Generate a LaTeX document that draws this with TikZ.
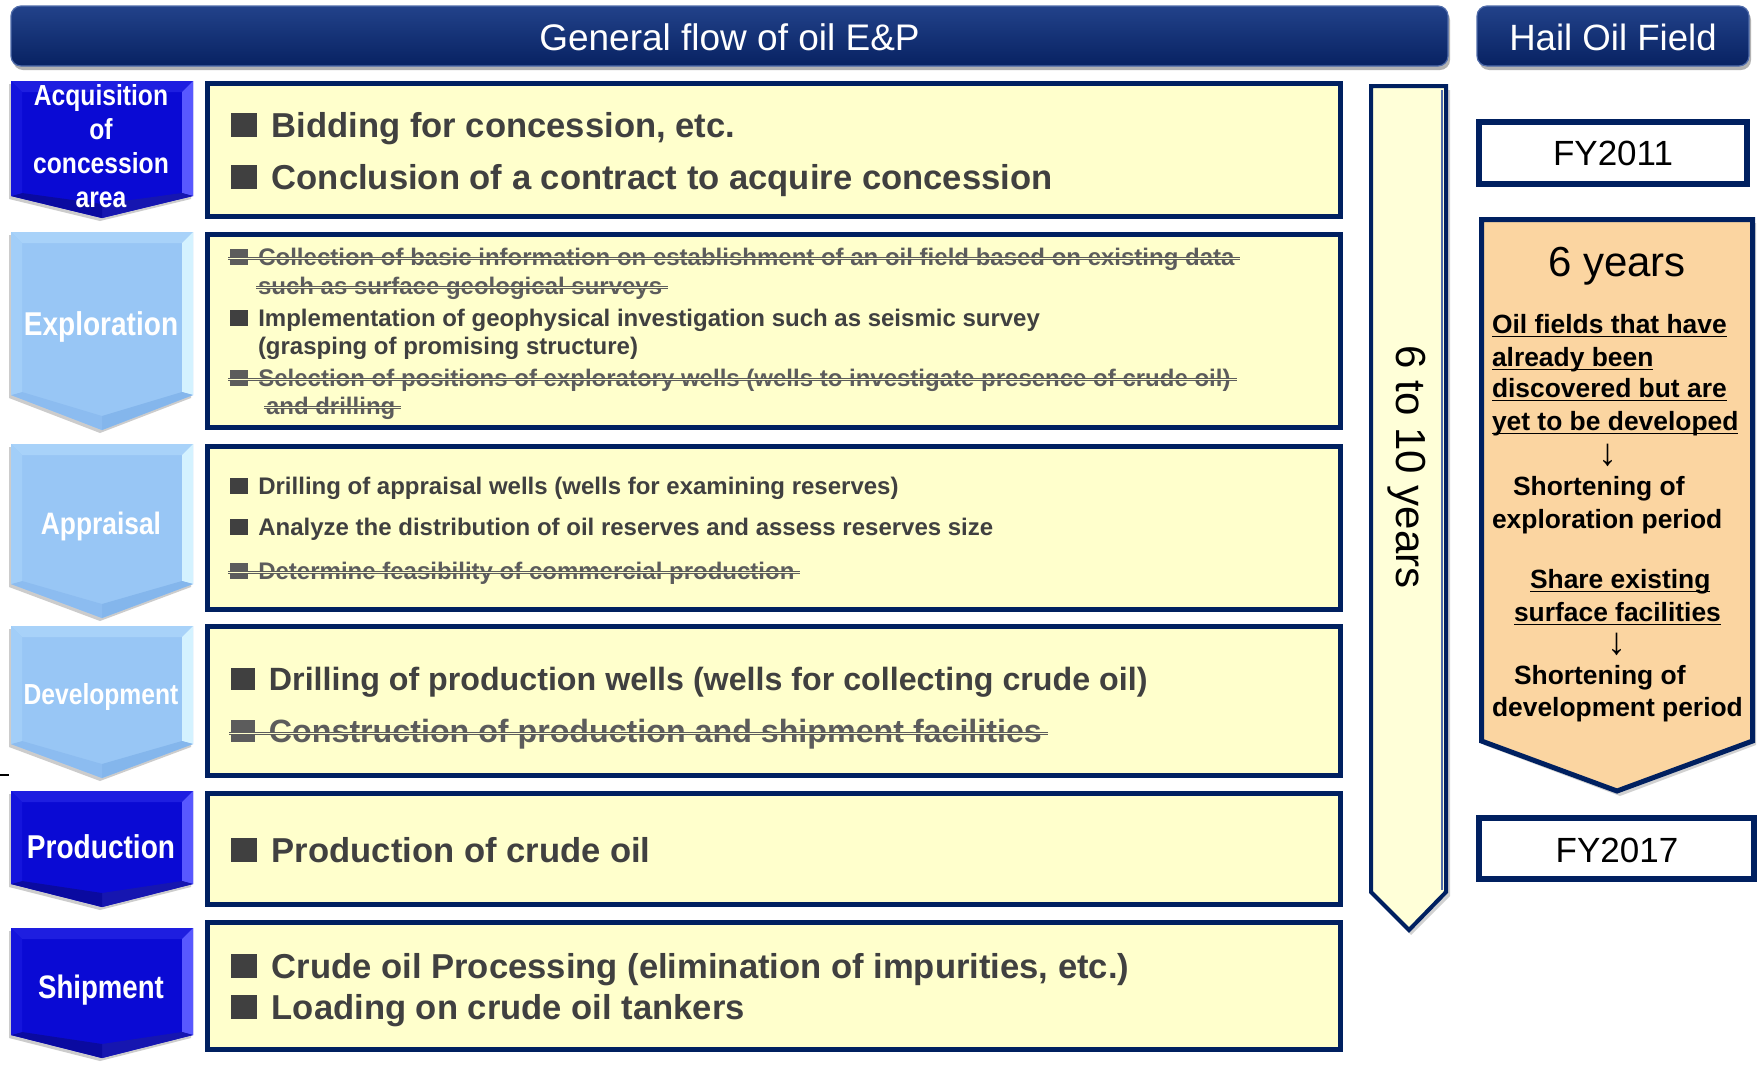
\documentclass[tikz,border=0pt]{standalone}
\usepackage{fontspec}
\setmainfont{Liberation Sans}
\newfontfamily\narrowfont{Liberation Sans}[FakeStretch=0.85]
\usetikzlibrary{calc}

\definecolor{navy}{RGB}{0,32,96}
\definecolor{boxfill}{RGB}{255,255,204}
\definecolor{txt}{RGB}{64,64,64}
\definecolor{struck}{RGB}{92,92,92}
\definecolor{orangefill}{RGB}{251,213,161}
\definecolor{arrowfill}{RGB}{255,255,216}
\definecolor{bannertop}{RGB}{34,66,138}
\definecolor{bannerbot}{RGB}{8,34,98}
\definecolor{bannerline}{RGB}{80,108,170}
% facet colours of the deep blue chevrons
\definecolor{deepC}{RGB}{10,10,212}
\definecolor{deepT}{RGB}{30,30,224}
\definecolor{deepR}{RGB}{88,88,255}
\definecolor{deepBR}{RGB}{22,22,176}
\definecolor{deepBL}{RGB}{10,10,160}
\definecolor{deepL}{RGB}{20,20,220}
% facet colours of the sky blue chevrons
\definecolor{skyC}{RGB}{152,198,245}
\definecolor{skyT}{RGB}{168,210,249}
\definecolor{skyR}{RGB}{212,242,255}
\definecolor{skyBR}{RGB}{132,182,236}
\definecolor{skyBL}{RGB}{140,188,240}
\definecolor{skyL}{RGB}{162,206,248}

\newcommand\sqb{\rule{0.74em}{0.68em}\hspace{0.44em}}
\newcommand\fsz[2]{\fontsize{#1}{#2}\selectfont}

% chevron with bevelled facets: #1 left x, #2 top y, #3 right x, #4 side end y, #5 tip y, #6 colour family
\newcommand\bevelchevron[6]{%
  \pgfmathsetmacro\xm{(#1+#3)/2}%
  \pgfmathsetmacro\xa{#1+11}\pgfmathsetmacro\xb{#3-11}%
  \pgfmathsetmacro\ya{#2+11}\pgfmathsetmacro\yb{#4-3}\pgfmathsetmacro\yc{#5-14}%
  \fill[black!20] (#1-2,#2+3) -- (#3-2,#2+3) -- (#3-2,#4+3) -- (\xm-2,#5+3) -- (#1-2,#4+3) -- cycle;
  \fill[#6C] (#1,#2) -- (#3,#2) -- (#3,#4) -- (\xm,#5) -- (#1,#4) -- cycle;
  \fill[#6T] (#1,#2) -- (#3,#2) -- (\xb,\ya) -- (\xa,\ya) -- cycle;
  \fill[#6R] (#3,#2) -- (#3,#4) -- (\xb,\yb) -- (\xb,\ya) -- cycle;
  \fill[#6BR] (#3,#4) -- (\xm,#5) -- (\xm,\yc) -- (\xb,\yb) -- cycle;
  \fill[#6BL] (\xm,#5) -- (#1,#4) -- (\xa,\yb) -- (\xm,\yc) -- cycle;
  \fill[#6L] (#1,#4) -- (#1,#2) -- (\xa,\ya) -- (\xa,\yb) -- cycle;
}

% double strike line through a text node: #1 node name, #2 height above baseline
\newcommand\strk[2]{\draw[strike] ([xshift=-1pt,yshift=#2]#1.base west) -- ([xshift=3pt,yshift=#2]#1.base east);}
% underline below a text node
\newcommand\undl[1]{\draw[line width=0.6pt] ([yshift=-1.6pt]#1.base west) -- ([yshift=-1.6pt]#1.base east);}

\begin{document}
\begin{tikzpicture}[x=0.5pt,y=-0.5pt,
  every node/.style={inner sep=0pt, outer sep=0pt},
  stagebox/.style={draw=navy, line width=2.5pt, fill=boxfill},
  item/.style={anchor=base west, text=txt},
  gone/.style={anchor=base west, text=struck},
  bigtext/.style={font=\bfseries\fsz{17.3pt}{20pt}},
  midtext/.style={font=\bfseries\fsz{16.1pt}{20pt}},
  smalltext/.style={font=\bfseries\fsz{12pt}{14pt}},
  strike/.style={draw=struck, line width=0.4pt, double=boxfill, double distance=0.6pt},
  chevlabel/.style={text=white, align=center},
  banner/.style={rounded corners=5pt, top color=bannertop, bottom color=bannerbot, draw=bannerline, line width=0.6pt},
  yearbox/.style={draw=navy, line width=3pt, fill=white},
  note/.style={anchor=base west, text=black, font=\bfseries\fsz{13.2pt}{16pt}},
  downarrow/.style={font=\fsz{19pt}{20pt}}]

\useasboundingbox (0,0) rectangle (1760,1066);
\fill[white] (0,0) rectangle (1760,1066);

% ---- header banners
\fill[black!30, rounded corners=5pt] (13,10) rectangle (1450,70);
\shadedraw[banner] (11,6) rectangle (1448,66);
\node[text=white, font=\fsz{18.5pt}{22pt}] (title) at (729.5,37) {General flow of oil E\&P};
\fill[black!30, rounded corners=5pt] (1479,10) rectangle (1751,70);
\shadedraw[banner] (1477,6) rectangle (1749,66);
\node[text=white, font=\fsz{18.3pt}{22pt}] (hail) at (1613,37) {Hail Oil Field};

% ---- stage chevrons
\bevelchevron{11}{81}{193}{196}{218}{deep}
\bevelchevron{11}{232}{193}{395}{430}{sky}
\bevelchevron{11}{444}{193}{584}{618}{sky}
\bevelchevron{11}{626}{193}{744}{778}{sky}
\bevelchevron{11}{791}{193}{884}{907}{deep}
\bevelchevron{11}{928}{193}{1035}{1058}{deep}

\node[chevlabel, font=\narrowfont\bfseries\fsz{14.5pt}{17pt}] (acq) at (101,146) {Acquisition\\of\\concession\\area};
\node[chevlabel, font=\narrowfont\bfseries\fsz{16.5pt}{19pt}] (expl) at (101,327) {Exploration};
\node[chevlabel, font=\narrowfont\bfseries\fsz{15.5pt}{19pt}] (appr) at (101,526) {Appraisal};
\node[chevlabel, font=\narrowfont\bfseries\fsz{14.5pt}{19pt}] (dev) at (101,697) {Development};
\node[chevlabel, font=\narrowfont\bfseries\fsz{16.5pt}{19pt}] (prod) at (101,847) {Production};
\node[chevlabel, font=\narrowfont\bfseries\fsz{16.25pt}{19pt}] (ship) at (101,990) {Shipment};

% ---- stage boxes
\draw[stagebox] (207.5,83.5) rectangle (1340.5,216.5);
\draw[stagebox] (207.5,234.5) rectangle (1340.5,427.5);
\draw[stagebox] (207.5,446.5) rectangle (1340.5,609.5);
\draw[stagebox] (207.5,626.5) rectangle (1340.5,775.5);
\draw[stagebox] (207.5,793.5) rectangle (1340.5,904.5);
\draw[stagebox] (207.5,922.5) rectangle (1340.5,1049.5);

% box 1
\node[item, bigtext] (a1) at (231,137) {\sqb Bidding for concession, etc.};
\node[item, bigtext] (a2) at (231,189) {\sqb Conclusion of a contract to acquire concession};

% box 2
\node[gone, smalltext] (e1) at (230,265) {\sqb Collection of basic information on establishment of an oil field based on existing data};
\node[gone, smalltext] (e2) at (258,294) {such as surface geological surveys};
\node[item, smalltext] (e3) at (230,326) {\sqb Implementation of geophysical investigation such as seismic survey};
\node[item, smalltext] (e4) at (258,354) {(grasping of promising structure)};
\node[gone, smalltext] (e5) at (230,386) {\sqb Selection of positions of exploratory wells (wells to investigate presence of crude oil)};
\node[gone, smalltext] (e6) at (266,414) {and drilling};
\strk{e1}{3.3pt}
\strk{e2}{3.3pt}
\strk{e5}{3.3pt}
\strk{e6}{3.3pt}

% box 3
\node[item, smalltext] (p1) at (230,494) {\sqb Drilling of appraisal wells (wells for examining reserves)};
\node[item, smalltext] (p2) at (230,535) {\sqb Analyze the distribution of oil reserves and assess reserves size};
\node[gone, smalltext] (p3) at (230,579) {\sqb Determine feasibility of commercial production};
\strk{p3}{3.3pt}

% box 4
\node[item, midtext] (d1) at (231,690) {\sqb Drilling of production wells (wells for collecting crude oil)};
\node[gone, midtext] (d2) at (231,742) {\sqb Construction of production and shipment facilities};
\strk{d2}{4.4pt}

% box 5
\node[item, bigtext] (r1) at (231,862) {\sqb Production of crude oil};

% box 6
\node[item, bigtext] (s1) at (231,978) {\sqb Crude oil Processing (elimination of impurities, etc.)};
\node[item, bigtext] (s2) at (231,1019) {\sqb Loading on crude oil tankers};

% ---- overall duration arrow
\fill[black!18] (1373,90) -- (1450,90) -- (1450,896) -- (1411,935) -- (1373,896) -- cycle;
\draw[navy, line width=2pt, fill=arrowfill, line join=miter] (1371,86) -- (1446,86) -- (1446,892) -- (1409,930) -- (1371,892) -- cycle;
\draw[bannerline, line width=1pt] (1442,90) -- (1442,890);
\node[rotate=-90, font=\fsz{21pt}{24pt}] (span) at (1407,467) {6 to 10 years};

% ---- Hail oil field timeline
\draw[yearbox] (1479,122) rectangle (1747,184);
\node[font=\fsz{17.5pt}{20pt}] (fy1) at (1613,153) {FY2011};

\fill[black!18] (1484,223) -- (1756,223) -- (1756,745) -- (1620,796) -- (1484,745) -- cycle;
\draw[navy, line width=2.5pt, fill=orangefill, line join=miter] (1481.5,219.5) -- (1752.5,219.5) -- (1752.5,741) -- (1617,791) -- (1481.5,741) -- cycle;
\node[font=\fsz{21pt}{24pt}] (six) at (1617,266) {6 years};

\node[note] (h1) at (1492,333) {Oil fields that have};
\node[note] (h2) at (1492,366) {already been};
\node[note] (h3) at (1492,397) {discovered but are};
\node[note] (h4) at (1492,430) {yet to be developed};
\undl{h1}\undl{h2}\undl{h3}\undl{h4}
\node[downarrow] (arr1) at (1608,455) {↓};
\node[note] (h5) at (1513,495) {Shortening of};
\node[note] (h6) at (1492,528) {exploration period};
\node[note] (h7) at (1530,588) {Share existing};
\node[note] (h8) at (1514,621) {surface facilities};
\undl{h7}\undl{h8}
\node[downarrow] (arr2) at (1617,644) {↓};
\node[note] (h9) at (1514,684) {Shortening of};
\node[note] (h10) at (1492,716) {development period};

\draw[yearbox] (1479,818) rectangle (1754,879);
\node[font=\fsz{17.5pt}{20pt}] (fy2) at (1617,850) {FY2017};

% stray tick at the left edge
\draw[line width=0.6pt] (0,775) -- (9,775);
\end{tikzpicture}
\end{document}
